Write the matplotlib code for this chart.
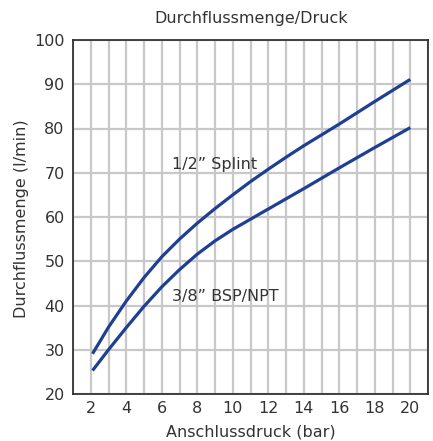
import matplotlib
matplotlib.use("Agg")
import matplotlib.pyplot as plt
import numpy as np

plt.rcParams['font.family'] = ['DejaVu Sans']

pressure = [2.1, 3, 4, 5, 6, 7, 8, 9, 10, 11, 12, 13, 14, 16, 18, 20]
flow_half = [29.1, 35.1, 41.0, 46.3, 51.0, 55.0, 58.6, 61.9, 65.0, 68.0, 70.8, 73.5, 76.1, 81.0, 86.1, 91.1]
flow_3_8 = [25.3, 30.0, 35.0, 39.8, 44.2, 48.1, 51.6, 54.6, 57.2, 59.5, 61.8, 64.1, 66.4, 71.1, 75.7, 80.2]

label_half = "1/2\u201d Splint"
label_3_8 = "3/8\u201d BSP/NPT"
title = "Durchflussmenge/Druck"
xlabel = "Anschlussdruck (bar)"
ylabel = "Durchflussmenge (l/min)"
xticks = [2, 4, 6, 8, 10, 12, 14, 16, 18, 20]
yticks = [20, 30, 40, 50, 60, 70, 80, 90, 100]

text_color = "#333333"
line_color = "#1f3f94"
grid_color = "#c8c8c8"
fs = 11.5

fig = plt.figure(figsize=(4.33, 4.41), dpi=100)
ax = fig.add_axes([73/433, 1-394/441, (428-73)/433, (394-40)/441])

ax.set_xlim(1, 21)
ax.set_ylim(20, 100)
ax.set_xticks(xticks)
ax.set_xticks(np.arange(1, 22, 1), minor=True)
ax.set_yticks(yticks)
ax.grid(True, which='both', axis='x', color=grid_color, linewidth=1.6)
ax.grid(True, which='major', axis='y', color=grid_color, linewidth=1.6)
ax.set_axisbelow(True)
ax.tick_params(which='both', length=0, labelsize=fs, colors=text_color)
ax.tick_params(axis='x', pad=5)
ax.tick_params(axis='y', pad=6)

for s in ax.spines.values():
    s.set_color("#333333")
    s.set_linewidth(1.3)

ax.plot(pressure, flow_half, color=line_color, linewidth=2.3, solid_capstyle='butt', zorder=3)
ax.plot(pressure, flow_3_8, color=line_color, linewidth=2.3, solid_capstyle='butt', zorder=3)

ax.text(6.55, 71.8, label_half, fontsize=fs, color=text_color, va='center', ha='left')
ax.text(6.55, 42.1, label_3_8, fontsize=fs, color=text_color, va='center', ha='left')

fig.text(251/433, 1-19/441, title, fontsize=fs, color=text_color, ha='center', va='center')
ax.set_xlabel(xlabel, fontsize=fs, color=text_color, labelpad=6)
ax.set_ylabel(ylabel, fontsize=fs, color=text_color)
ax.yaxis.set_label_coords(-0.125, 0.495)

fig.savefig("out.png", dpi=100)
